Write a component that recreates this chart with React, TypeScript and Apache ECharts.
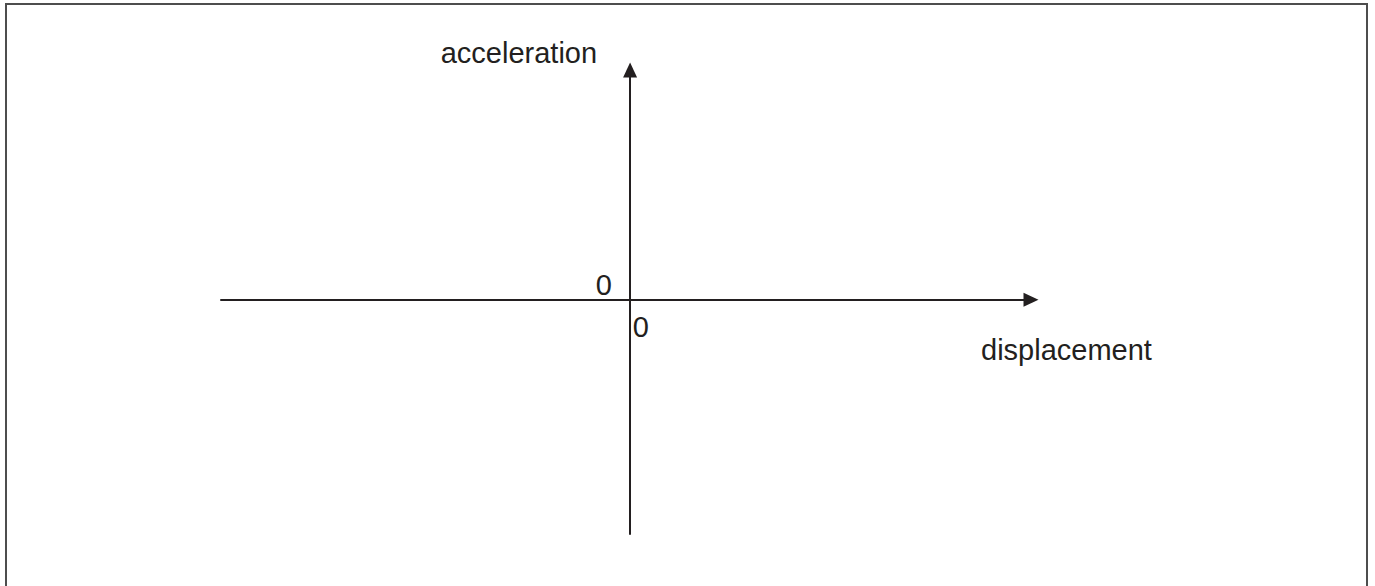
import React, { useEffect, useRef } from "react";
import * as echarts from "echarts";

// Axis extents (unitless schematic axes)
const xRange = [-1, 0.98];
const yRange = [-1, 0.98];
const axisNames = { x: "displacement", y: "acceleration" };
const originPoint: number[] = [0, 0];
const originLabel = "0";

const INK = "#231f20";
const FONT = "'Liberation Sans', Arial, sans-serif";
const FS = 29;

export default function App() {
  const ref = useRef<HTMLDivElement>(null);
  useEffect(() => {
    if (!ref.current) return;
    const chart = echarts.init(ref.current, undefined, { renderer: "svg" });
    const labelBase = {
      show: true,
      color: INK,
      opacity: 1,
      textBorderWidth: 0,
      textBorderColor: "none",
      fontSize: FS,
      fontFamily: FONT,
      formatter: () => originLabel,
    };
    const zeroSeries = (label: object) => ({
      type: "scatter",
      symbol: "circle",
      symbolSize: 0.5,
      silent: true,
      itemStyle: { color: INK, opacity: 0 },
      data: [originPoint],
      label: { ...labelBase, ...label },
    });
    chart.setOption({
      animation: false,
      backgroundColor: "#ffffff",
      textStyle: { fontFamily: FONT },
      grid: { left: 221, right: 344, top: 70, bottom: 52, containLabel: false },
      xAxis: {
        type: "value",
        min: xRange[0],
        max: xRange[1],
        interval: 1,
        name: axisNames.x,
        nameLocation: "end",
        nameGap: -50,
        nameTextStyle: {
          color: INK,
          fontSize: FS,
          fontFamily: FONT,
          align: "left",
          verticalAlign: "top",
          padding: [36, 0, 0, 0],
        },
        axisLine: {
          onZero: true,
          symbol: ["none", "triangle"],
          symbolSize: [14, 15],
          lineStyle: { color: INK, width: 2 },
        },
        axisTick: { show: false },
        splitLine: { show: false },
        axisLabel: { show: false },
      },
      yAxis: {
        type: "value",
        min: yRange[0],
        max: yRange[1],
        interval: 1,
        name: axisNames.y,
        nameLocation: "end",
        nameGap: 3,
        nameTextStyle: {
          color: INK,
          fontSize: FS,
          fontFamily: FONT,
          align: "right",
          verticalAlign: "bottom",
          padding: [0, 33, 0, 0],
        },
        axisLine: {
          onZero: true,
          symbol: ["none", "triangle"],
          symbolSize: [14, 15],
          lineStyle: { color: INK, width: 2 },
        },
        axisTick: { show: false },
        splitLine: { show: false },
        axisLabel: { show: false },
      },
      graphic: [
        {
          type: "rect",
          shape: { x: 6, y: 4, width: 1361, height: 620 },
          style: { fill: "none", stroke: "#4d4d4d", lineWidth: 2 },
          silent: true,
        },
      ],
      series: [
        zeroSeries({ position: [3, 13], align: "left", verticalAlign: "top" }),
        zeroSeries({ position: [-18, 0], align: "right", verticalAlign: "bottom" }),
      ],
    });
    return () => chart.dispose();
  }, []);
  return (
    <div
      ref={ref}
      style={{ position: "absolute", left: 0, top: 0, width: 1375, height: 586 }}
    />
  );
}
